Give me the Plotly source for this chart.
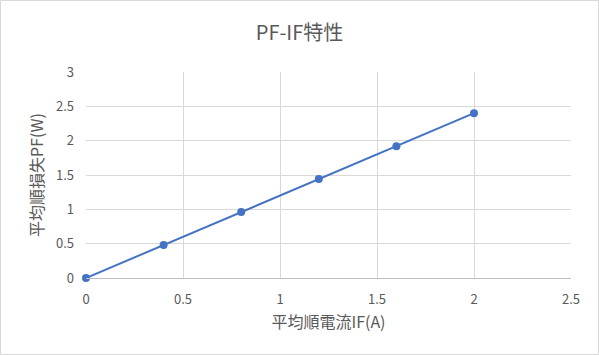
import plotly.graph_objects as go

IF_A = [0, 0.4, 0.8, 1.2, 1.6, 2.0]
PF_W = [0, 0.48, 0.96, 1.44, 1.92, 2.4]
x_ticks = [0, 0.5, 1, 1.5, 2, 2.5]
x_ticklabels = ["0", "0.5", "1", "1.5", "2", "2.5"]
y_ticks = [0, 0.5, 1, 1.5, 2, 2.5, 3]
y_ticklabels = ["0", "0.5", "1", "1.5", "2", "2.5", "3"]

W, H = 599, 355
L, R, T, B = 86, 28, 72, 77
pw, ph = W - L - R, H - T - B

font = "Noto Sans CJK JP, Noto Sans, sans-serif"
grey = "#595959"

fig = go.Figure(go.Scatter(
    x=IF_A, y=PF_W, mode="lines+markers",
    line=dict(color="#4472C4", width=2),
    marker=dict(color="#4472C4", size=8),
    cliponaxis=False,
))

fig.update_layout(
    width=W, height=H,
    margin=dict(l=L, r=R, t=T, b=B),
    paper_bgcolor="white", plot_bgcolor="white",
    showlegend=False,
    font=dict(family=font, color=grey, size=13),
    title=dict(text="PF-IF特性", x=0.5, xanchor="center", y=1 - 33 / H, yanchor="middle",
               font=dict(size=20, color=grey, family=font)),
    xaxis=dict(range=[0, 2.5], tickvals=x_ticks, ticktext=x_ticklabels,
               showgrid=True, gridcolor="#d9d9d9", gridwidth=1,
               showline=True, linecolor="#bfbfbf", linewidth=1,
               zeroline=False, ticks="", ticklabelstandoff=9,
               title=dict(text="平均順電流IF(A)", font=dict(size=16, color=grey), standoff=10),
               tickfont=dict(size=13, color=grey)),
    yaxis=dict(range=[0, 3], tickvals=y_ticks, ticktext=y_ticklabels,
               showgrid=True, gridcolor="#d9d9d9", gridwidth=1,
               showline=False, zeroline=False, ticks="", ticklabelstandoff=11,
               title=dict(text="平均順損失PF(W)", font=dict(size=16, color=grey), standoff=8),
               tickfont=dict(size=13, color=grey)),
    shapes=[dict(type="rect", xref="paper", yref="paper",
                 x0=(-L + 0.5) / pw, x1=1 + (R - 0.5) / pw,
                 y0=(-B + 0.5) / ph, y1=1 + (T - 0.5) / ph,
                 line=dict(color="#d9d9d9", width=1), fillcolor="rgba(0,0,0,0)", layer="below")],
)

fig.write_html("out.html")
